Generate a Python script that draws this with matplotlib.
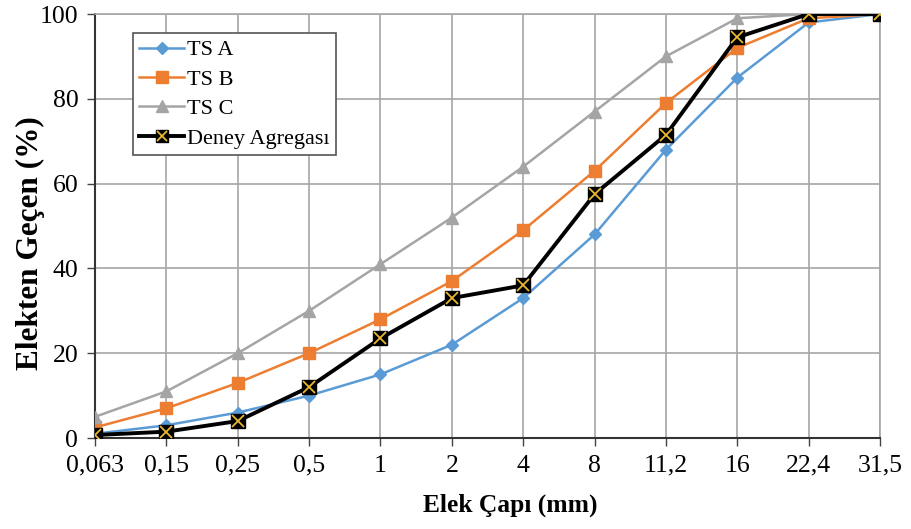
import matplotlib
matplotlib.use('Agg')
import matplotlib.pyplot as plt
from matplotlib.lines import Line2D

plt.rcParams['font.family'] = ['Liberation Serif', 'DejaVu Serif']

# elek çapları (mm)
sieves = ['0,063', '0,15', '0,25', '0,5', '1', '2', '4', '8', '11,2', '16', '22,4', '31,5']
ts_a = [1, 3, 6, 10, 15, 22, 33, 48, 68, 85, 98, 100]
ts_b = [2.5, 7, 13, 20, 28, 37, 49, 63, 79, 92, 99, 100]
ts_c = [5, 11, 20, 30, 41, 52, 64, 77, 90, 99, 100, 100]
deney = [0.7, 1.5, 4, 12, 23.5, 33, 36, 57.5, 71.5, 94.5, 100, 100]

fig = plt.figure(figsize=(9.11, 5.29), dpi=100)
ax = fig.add_axes([0.1043, 0.172, 0.8617, 0.8015])

x = list(range(len(sieves)))
ax.plot(x, ts_a, color='#5B9BD5', lw=1.8, marker='D', ms=6, label='TS A', zorder=3)
ax.plot(x, ts_b, color='#ED7D31', lw=1.8, marker='s', ms=8, label='TS B', zorder=3)
ax.plot(x, ts_c, color='#A5A5A5', lw=1.8, marker='^', ms=8, label='TS C', zorder=3)
ax.plot(x, deney, color='black', lw=2.8, marker='s', ms=10, mfc='black', mec='black', zorder=4)
ax.plot(x, deney, lw=0, marker='x', ms=8, mew=1.3, color='#E8B830', zorder=5)

ax.set_xlim(0, len(sieves) - 1)
ax.set_ylim(0, 100)
ax.set_xticks(x)
ax.set_xticklabels(sieves)
ax.set_yticks([0, 20, 40, 60, 80, 100])
ax.tick_params(labelsize=18.5, length=6, width=1, color='#444444', pad=6)
ax.grid(True, color='#A6A6A6', lw=1.2)
ax.set_axisbelow(True)
for s in ['top', 'right']:
    ax.spines[s].set_color('#A6A6A6')
    ax.spines[s].set_linewidth(1.2)
for s in ['left', 'bottom']:
    ax.spines[s].set_color('#333333')
    ax.spines[s].set_linewidth(1.5)

ax.set_xlabel('Elek Çapı (mm)', fontsize=18.4, fontweight='bold', va='center')
ax.xaxis.set_label_coords(0.529, -0.158)
ax.set_ylabel('Elekten Geçen (%)', fontsize=22.5, fontweight='bold', va='center')
ax.yaxis.set_label_coords(-0.082, 0.46)

h_a = Line2D([], [], color='#5B9BD5', lw=1.8, marker='D', ms=6)
h_b = Line2D([], [], color='#ED7D31', lw=1.8, marker='s', ms=8)
h_c = Line2D([], [], color='#A5A5A5', lw=1.8, marker='^', ms=8)
h_d1 = Line2D([], [], color='black', lw=2.8, marker='s', ms=9, mfc='black')
h_d2 = Line2D([], [], lw=0, marker='x', ms=7, mew=1.3, color='#E8B830')
leg = ax.legend([h_a, h_b, h_c, (h_d1, h_d2)], ['TS A', 'TS B', 'TS C', 'Deney Agregası'],
                loc='upper left', bbox_to_anchor=(0.048, 0.955), fontsize=16,
                fancybox=False, framealpha=1, edgecolor='#555555', handlelength=2.0,
                handletextpad=0.15, labelspacing=0.4, borderpad=0.3, borderaxespad=0)
leg.get_frame().set_linewidth(1.2)

plt.savefig('out.png', dpi=100)
